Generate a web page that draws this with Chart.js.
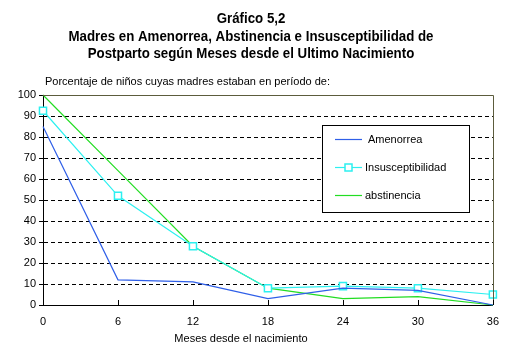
<!DOCTYPE html>
<html>
<head>
<meta charset="utf-8">
<script src="https://cdn.jsdelivr.net/npm/chart.js@4"></script>
<style>
html,body{margin:0;padding:0;background:#fff;}
#wrap{width:509px;height:356px;}
</style>
</head>
<body>
<div id="wrap"><canvas id="c" width="509" height="356"></canvas></div>
<script>
const months = [0, 6, 12, 18, 24, 30, 36];
const amenorrea = [85, 12, 11, 3, 8, 7, 0];
const insusceptibilidad = [92.5, 52, 28, 8, 9, 8, 5];
const abstinencia = [100, 64, 28, 8, 3, 4, 0];
const seriesNames = ['Amenorrea', 'Insusceptibilidad', 'abstinencia'];
const seriesColors = ['#2f5fe8', '#2cf0f0', '#22dd22'];
const titleLines = ['Gráfico 5,2', 'Madres en Amenorrea, Abstinencia e Insusceptibilidad de', 'Postparto según Meses desde el Ultimo Nacimiento'];
const subtitleText = 'Porcentaje de niños cuyas madres estaban en período de:';
const xTitleText = 'Meses desde el nacimiento';

const OLIVE = '#5c5c3d';
const FONT = '"Liberation Sans", Arial, sans-serif';

function pts(vals){ return months.map((m,i)=>({x:m, y:vals[i]})); }

const decor = {
  id: 'decor',
  afterDraw(chart){
    const ctx = chart.ctx, a = chart.chartArea;
    const xs = chart.scales.x;
    ctx.save();
    // top & right border
    ctx.strokeStyle = OLIVE; ctx.lineWidth = 1;
    ctx.beginPath();
    ctx.moveTo(Math.round(a.left), Math.round(a.top)+0.5);
    ctx.lineTo(Math.round(a.right)+0.5, Math.round(a.top)+0.5);
    ctx.lineTo(Math.round(a.right)+0.5, Math.round(a.bottom));
    ctx.stroke();
    // inward x ticks
    ctx.strokeStyle = '#000';
    ctx.beginPath();
    xs.ticks.forEach(t=>{
      const px = Math.round(xs.getPixelForValue(t.value))+0.5;
      ctx.moveTo(px, a.bottom); ctx.lineTo(px, a.bottom-5);
    });
    ctx.stroke();
    // titles (compressed bold, like a narrow face)
    ctx.fillStyle = '#000';
    ctx.textAlign = 'center'; ctx.textBaseline = 'alphabetic';
    ctx.font = 'bold 14px ' + FONT;
    const w2 = ctx.measureText(titleLines[1]).width;
    const sx = Math.min(1, 365 / w2);
    const ty = [23, 40.5, 58];
    titleLines.forEach((l,i)=>{
      ctx.save();
      ctx.translate(251, ty[i]);
      ctx.scale(sx, 1);
      ctx.fillText(l, 0, 0);
      ctx.restore();
    });
    ctx.font = '11px ' + FONT;
    ctx.textAlign = 'left';
    ctx.fillText(subtitleText, 45, 85);
    ctx.textAlign = 'center';
    ctx.fillText(xTitleText, 241, 342);
    // legend
    const lx = 322, ly = 125, lw = 147, lh = 87;
    ctx.fillStyle = '#fff';
    ctx.fillRect(lx, ly, lw, lh);
    ctx.strokeStyle = '#000'; ctx.lineWidth = 1;
    ctx.strokeRect(lx+0.5, ly+0.5, lw, lh);
    const rows = [{y:139.5, tx:368}, {y:167.5, tx:365}, {y:195.5, tx:365}];
    seriesNames.forEach((name,i)=>{
      const r = rows[i];
      const col = seriesColors[i];
      ctx.strokeStyle = col; ctx.lineWidth = 1.2;
      ctx.beginPath(); ctx.moveTo(335, r.y); ctx.lineTo(362, r.y); ctx.stroke();
      if (i === 1) {
        ctx.fillStyle = '#fff';
        ctx.fillRect(345, r.y-3.5, 7, 7);
        ctx.lineWidth = 1.5; ctx.strokeStyle = col;
        ctx.strokeRect(345, r.y-3.5, 7, 7);
      }
      ctx.fillStyle = '#000';
      ctx.font = '11px ' + FONT;
      ctx.textAlign = 'left'; ctx.textBaseline = 'middle';
      ctx.fillText(name, r.tx, r.y);
    });
    ctx.restore();
  }
};

new Chart(document.getElementById('c'), {
  type: 'line',
  data: {
    datasets: [
      {label: seriesNames[0], data: pts(amenorrea), borderColor: seriesColors[0], borderWidth: 1.2, pointRadius: 0, tension: 0, clip: false},
      {label: seriesNames[1], data: pts(insusceptibilidad), borderColor: seriesColors[1], borderWidth: 1.2, pointRadius: 5, pointStyle: 'rect', pointBackgroundColor: '#fff', pointBorderColor: seriesColors[1], pointBorderWidth: 1.5, tension: 0, clip: false},
      {label: seriesNames[2], data: pts(abstinencia), borderColor: seriesColors[2], borderWidth: 1.2, pointRadius: 0, tension: 0, clip: false}
    ]
  },
  options: {
    responsive: false,
    animation: false,
    devicePixelRatio: 1,
    layout: {padding: {top: 95, right: 15, left: 0, bottom: 0}},
    plugins: {legend: {display: false}, tooltip: {enabled: false}, title: {display: false}},
    scales: {
      x: {
        type: 'linear', min: 0, max: 36,
        ticks: {stepSize: 6, color: '#000', font: {family: FONT, size: 11}, padding: 10, maxRotation: 0},
        grid: {drawOnChartArea: false, drawTicks: false},
        border: {color: '#000', width: 1},
        afterFit(s){ s.height = 51; }
      },
      y: {
        min: 0, max: 100,
        ticks: {stepSize: 10, color: '#000', font: {family: FONT, size: 11}, padding: 3},
        grid: {
          color: c => (c.tick && (c.tick.value === 0 || c.tick.value === 100)) ? 'rgba(0,0,0,0)' : '#000',
          tickColor: '#000', tickLength: 4, lineWidth: 1
        },
        border: {color: '#000', width: 1, dash: [4, 3]},
        afterFit(s){ s.width = 43; }
      }
    }
  },
  plugins: [decor]
});
</script>
</body>
</html>
